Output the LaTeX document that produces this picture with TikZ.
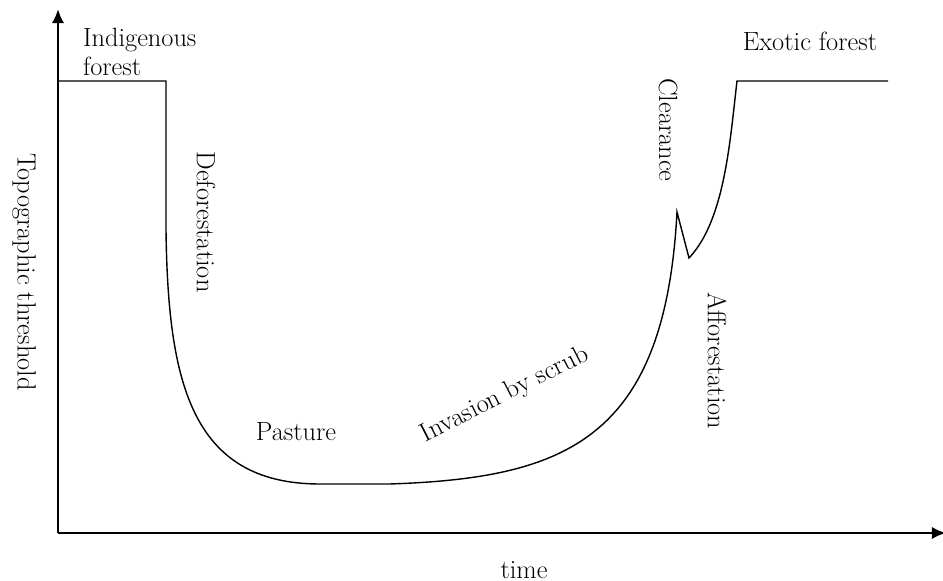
\documentclass[tikz,border=0pt]{standalone}
\usepackage{tikz}
\usetikzlibrary{arrows.meta}

\begin{document}
\begin{tikzpicture}[
        x = 0.02cm,
        y = 0.02cm,
        lbl/.style = {
            font = \fontsize{15}{16}\selectfont,
            inner sep = 0pt,
            outer sep = 0pt
        },
        vlbl/.style = {lbl, rotate = -90},
        axis/.style = {line width = 1.4pt, -{Latex[length=8pt, width=7pt]}},
        trend/.style = {line width = 0.8pt, line join = miter}
        ]
        \useasboundingbox (0,0) rectangle (943,581);
%
        \coordinate (origin) at (58,48);
        \coordinate (ytip) at (58,572);
        \coordinate (xtip) at (946,48);
        \draw[axis] (origin) -- (ytip);
        \draw[axis] (origin) -- (xtip);
%
        \coordinate (start) at (58,500);
        \coordinate (cut) at (166,500);
        \coordinate (low1) at (320,97);
        \coordinate (low2) at (390,97);
        \coordinate (peak) at (677,369);
        \coordinate (trough) at (689,323);
        \coordinate (top) at (737,500);
        \coordinate (stop) at (888,500);
%
        \draw[trend] (start) -- (cut) -- (166,351)
                .. controls (168,201) and (190,97) .. (low1) -- (low2)
                .. controls (565,103) and (665,141) .. (peak) -- (trough)
                .. controls (725,361) and (730,441) .. (top) -- (stop);
%
        \node[lbl, align=left, anchor=west] (indig) at (83,529) {Indigenous\\forest};
        \node[lbl] (exotic) at (810,540) {Exotic forest};
        \node[vlbl] (clear) at (668,451) {Clearance};
        \node[vlbl] (defor) at (206,359) {Deforestation};
        \node[vlbl] (afor) at (717,220) {Afforestation};
        \node[vlbl] (ylab) at (24,309) {Topographic threshold};
        \node[lbl] (past) at (296,149) {Pasture};
        \node[lbl, rotate=27] (scrub) at (505,186) {Invasion by scrub};
        \node[lbl] (xlab) at (524,11) {time};
%
    \end{tikzpicture}
\end{document}
